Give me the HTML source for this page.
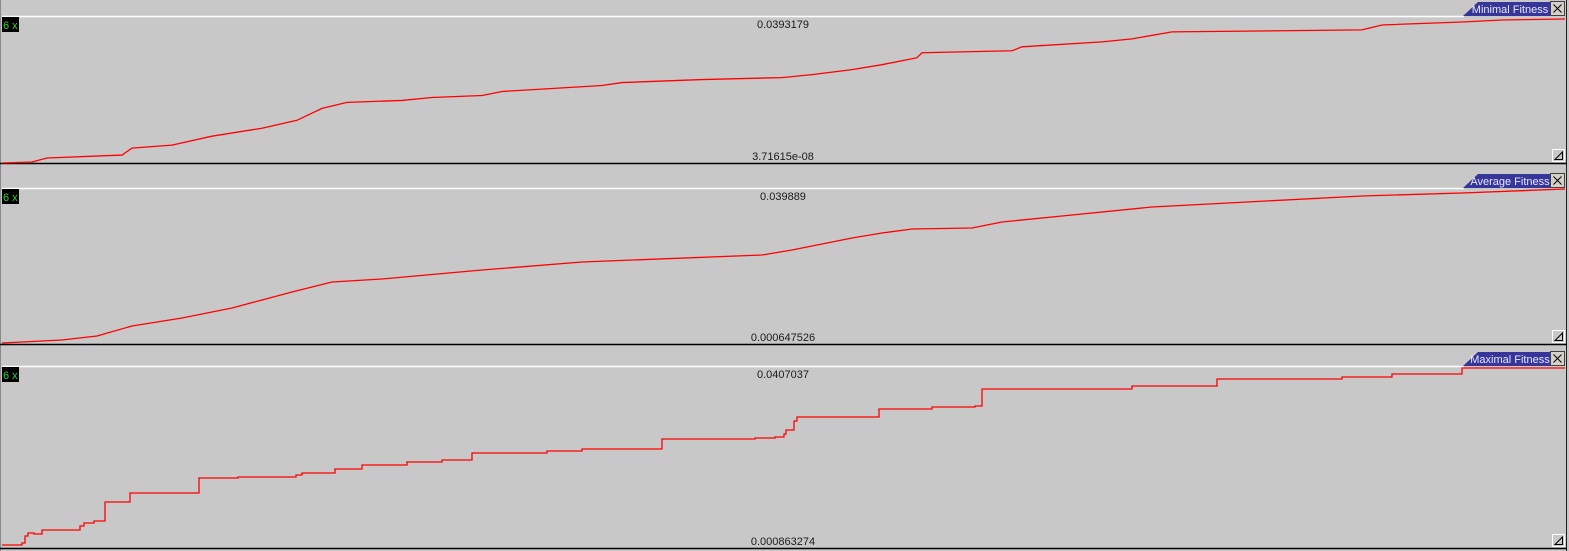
<!DOCTYPE html>
<html><head><meta charset="utf-8"><style>
html,body{margin:0;padding:0;background:#c8c8c8;width:1569px;height:551px;overflow:hidden}
svg{display:block}
text{font-family:"Liberation Sans",sans-serif;font-size:11px}
</style></head><body>
<svg id="c" width="1569" height="551" xmlns="http://www.w3.org/2000/svg">
<rect x="0" y="0" width="1569" height="551" fill="#c8c8c8"/>
<line x1="0.5" y1="0" x2="0.5" y2="551" stroke="#8a8a8a"/>
<line x1="1566.5" y1="0" x2="1566.5" y2="551" stroke="#202020"/>
</svg>
<script>
// Panel 1: Minimal Fitness
const minGen=[0,30,45,120,130,170,210,260,295,320,345,400,430,480,500,600,620,700,780,810,850,880,905,915,920,1010,1020,1100,1130,1170,1360,1380,1460,1500,1563];
const minVal=[0,0.00027,0.00135,0.00215,0.00404,0.00485,0.00727,0.00943,0.01158,0.01481,0.01643,0.01697,0.01777,0.01831,0.01939,0.02101,0.02181,0.02262,0.02316,0.02397,0.02531,0.02666,0.02801,0.02855,0.02989,0.03043,0.03151,0.03285,0.03366,0.03555,0.03609,0.03743,0.03824,0.03878,0.03905];
// Panel 2: Average Fitness
const avgGen=[0,60,95,130,180,230,260,290,330,380,480,580,760,790,850,880,910,970,1000,1060,1150,1360,1460,1563];
const avgVal=[0.00090,0.00166,0.00267,0.00521,0.00723,0.00976,0.01179,0.01381,0.01635,0.01711,0.01938,0.02141,0.02318,0.02445,0.02749,0.02875,0.02977,0.03002,0.03154,0.03305,0.03533,0.03812,0.03888,0.03989];
// Panel 3: Maximal Fitness (step)
const maxGen=[0,20,23,26,32,40,78,82,92,103,128,197,236,294,300,333,360,405,440,470,545,580,660,753,773,782,784,792,795,877,930,973,980,1130,1215,1340,1390,1460,1563];
const maxVal=[0.000863,0.00131,0.00289,0.00356,0.00334,0.00424,0.00514,0.00582,0.00627,0.01054,0.01257,0.01595,0.01617,0.01662,0.01707,0.01797,0.01887,0.01955,0.02000,0.02157,0.02202,0.02247,0.02472,0.02495,0.02517,0.02585,0.02675,0.02877,0.02968,0.03148,0.03193,0.03215,0.03598,0.03665,0.03823,0.03868,0.03935,0.04070,0.04070];
const panelTitles=["Minimal Fitness","Average Fitness","Maximal Fitness"];
const maxLabels=["0.0393179","0.039889","0.0407037"];
const minLabels=["3.71615e-08","0.000647526","0.000863274"];
const minNums=[3.71615e-08,0.000647526,0.000863274];
const maxNums=[0.0393179,0.039889,0.0407037];

const NS="http://www.w3.org/2000/svg";
const svg=document.getElementById('c');
function mk(t,a,p){const e=document.createElementNS(NS,t);for(const k in a)e.setAttribute(k,a[k]);(p||svg).appendChild(e);return e;}
const panels=[
 {top:16,bot:164,yTop:18,yBot:163,gens:minGen,vals:minVal,step:false},
 {top:188,bot:345,yTop:189,yBot:344,gens:avgGen,vals:avgVal,step:false},
 {top:366,bot:549,yTop:368,yBot:545,gens:maxGen,vals:maxVal,step:true}
];
function xScale(g){return 2+g;}
panels.forEach((p,i)=>{
  const g=mk('g',{});
  
  
  const yScale=v=>p.yBot-(v-minNums[i])/(maxNums[i]-minNums[i])*(p.yBot-p.yTop);
  const tl=mk('line',{x1:2,y1:p.top+0.5,x2:1464,y2:p.top+0.5,stroke:'#ffffff','stroke-width':1.5},g);
  
  
  const bl=mk('line',{x1:0,y1:p.bot-0.5,x2:1567,y2:p.bot-0.5,stroke:'#000000','stroke-width':1.5},g);
  
  
  // tab
  const tab=mk('polygon',{points:`1463,${p.top} 1478,${p.top-14} 1550,${p.top-14} 1550,${p.top}`,fill:'#35359a'},g);
  
  
  const tt=mk('text',{x:1510,y:p.top-3,'text-anchor':'middle',fill:'#e8e8ff'},g);
  tt.textContent=panelTitles[i];
  
  
  const cb=mk('rect',{x:1550.5,y:p.top-14.5,width:14,height:14,fill:'#d4d0c8',stroke:'#404040'},g);
  
  
  const cx=mk('path',{d:`M1553.5 ${p.top-11.5} L1561.5 ${p.top-3.5} M1561.5 ${p.top-11.5} L1553.5 ${p.top-3.5}`,stroke:'#000',fill:'none'},g);
  
  
  // badge
  const br=mk('rect',{x:2,y:p.top+1,width:17,height:15,fill:'#000'},g);
  
  
  const bt=mk('text',{x:3,y:p.top+13,fill:'#22dd22','font-family':'Liberation Mono, monospace'},g);
  bt.textContent='6 x';
  
  
  // labels
  const mx=mk('text',{x:783,y:p.top+12,'text-anchor':'middle',fill:'#1a1a1a'},g);
  mx.textContent=maxLabels[i];
  
  
  const mn=mk('text',{x:783,y:p.bot-4,'text-anchor':'middle',fill:'#1a1a1a'},g);
  mn.textContent=minLabels[i];
  
  
  // grip
  const gr=mk('rect',{x:1552.5,y:p.bot-14.5,width:12,height:12,fill:'#c8c8c8',stroke:'#ffffff'},g);
  
  
  const gp=mk('path',{d:`M1555 ${p.bot-4.5} L1562.5 ${p.bot-4.5} L1562.5 ${p.bot-12} Z`,fill:'none',stroke:'#000'},g);
  
  
  // series
  let d='';
  p.gens.forEach((gg,k)=>{
    const x=xScale(gg), y=yScale(p.vals[k]);
    if(k===0) d+=`M${x} ${y}`;
    else if(p.step){ d+=` H${x} V${y}`; }
    else d+=` L${x} ${y}`;
  });
  const ln=mk('path',{d:d,fill:'none',stroke:'#ff0000','stroke-width':1.3},g);
  
  
});
</script>
</body></html>
